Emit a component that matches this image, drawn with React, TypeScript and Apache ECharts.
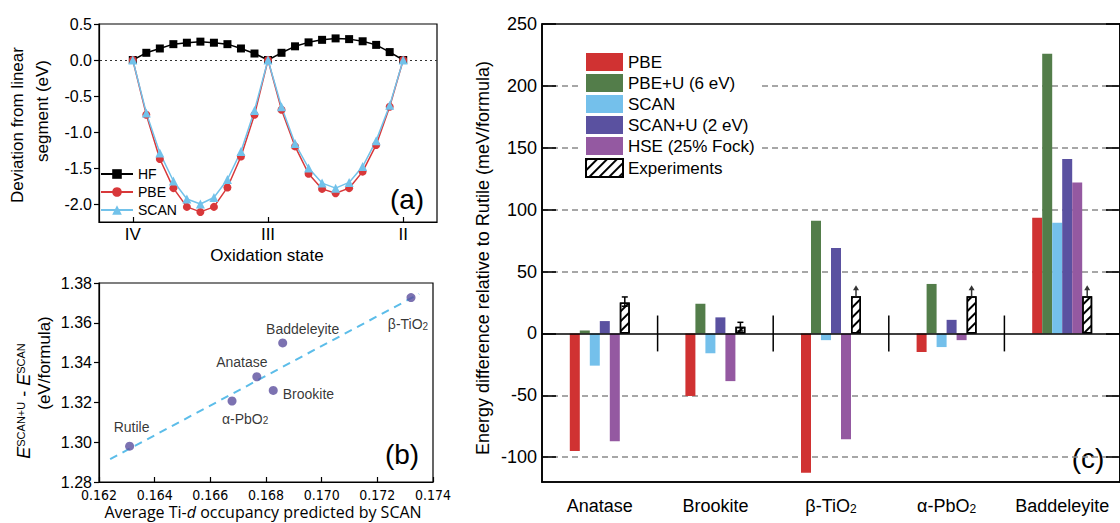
import React, { useEffect, useRef } from 'react';
import * as echarts from 'echarts';

// ---------- Panel (a) ----------
const oxStates = [4.0, 3.9, 3.8, 3.7, 3.6, 3.5, 3.4, 3.3, 3.2, 3.1, 3.0, 2.9, 2.8, 2.7, 2.6, 2.5, 2.4, 2.3, 2.2, 2.1, 2.0];
const hfDev = [0, 0.10, 0.16, 0.22, 0.24, 0.255, 0.24, 0.22, 0.16, 0.09, 0, 0.10, 0.19, 0.245, 0.28, 0.30, 0.29, 0.26, 0.21, 0.11, 0];
const pbeDev = [0, -0.76, -1.375, -1.78, -2.04, -2.11, -2.04, -1.77, -1.34, -0.76, 0, -0.69, -1.20, -1.58, -1.79, -1.85, -1.78, -1.55, -1.18, -0.65, 0];
const scanDev = [0, -0.735, -1.29, -1.68, -1.93, -2.0, -1.91, -1.66, -1.27, -0.70, 0, -0.65, -1.16, -1.50, -1.71, -1.78, -1.70, -1.48, -1.12, -0.63, 0];
const oxTicks = [4, 3, 2];
const oxTickLabels = ['IV', 'III', 'II'];
const devTicks = [-2.0, -1.5, -1.0, -0.5, 0.0, 0.5];

// ---------- Panel (b) ----------
const phases = ['Rutile', 'α-PbO2', 'Anatase', 'Brookite', 'Baddeleyite', 'β-TiO2'];
const dOccupancy = [0.1631, 0.16678, 0.16767, 0.16826, 0.1686, 0.17321];
const uShift = [1.298, 1.3207, 1.3329, 1.3260, 1.3499, 1.3727];
const fitX = [0.1624, 0.1735];
const fitY = [1.2915, 1.3745];

// ---------- Panel (c) ----------
const categories = ['Anatase', 'Brookite', 'β-TiO2', 'α-PbO2', 'Baddeleyite'];
const pbe = [-95, -50.5, -112.5, -15, 93.5];
const pbeU = [2.4, 24, 91, 40, 226];
const scan = [-26, -16, -5.4, -11, 89.5];
const scanU = [10, 13, 69, 11, 141];
const hse = [-87, -38.5, -85.5, -5.4, 122];
const experiments = [25, 5.4, 30, 30, 30];
const expErrLow = [22, 2, null, null, null];
const expErrHigh = [29.5, 9, null, null, null];
const expIsLowerBound = [false, false, true, true, true];
const energyTicks = [-100, -50, 0, 50, 100, 150, 200, 250];
const separatorHalf = 14.5;

const FONT = "'Liberation Sans', Arial, Helvetica, sans-serif";
const NARROW = "'Liberation Sans Narrow', 'DejaVu Sans Condensed', 'Liberation Sans', sans-serif";

const fmtSub = (s: string) => s.replace(/O2$/, 'O{sub|2}');

const labelPlacement: Record<string, any> = {
  'Rutile': { position: 'top', distance: 8, offset: [2, 0] },
  'α-PbO2': { position: 'bottom', distance: 6, offset: [13, 0] },
  'Anatase': { position: 'top', distance: 3, offset: [-15, 0] },
  'Brookite': { position: 'right', distance: 5, offset: [0, 4] },
  'Baddeleyite': { position: 'top', distance: 2, offset: [20, 0] },
  'β-TiO2': { position: 'bottom', distance: 15, offset: [-3, 0] },
};

const barColors = ['#d03232', '#537d4a', '#74c0eb', '#5a51a0', '#9459a1'];
const barNames = ['PBE', 'PBE+U (6 eV)', 'SCAN', 'SCAN+U (2 eV)', 'HSE (25% Fock)'];
const BAR_W = 10;

export default function App() {
  const ref = useRef<HTMLDivElement>(null);
  useEffect(() => {
    document.body.style.margin = '0';
    const chart = echarts.init(ref.current!, null, { renderer: 'svg' });

    const blackLine = { color: '#000', width: 1.2 };

    const barSeries = [pbe, pbeU, scan, scanU, hse].map((vals, k) => ({
      name: barNames[k],
      type: 'bar',
      xAxisIndex: 2,
      yAxisIndex: 2,
      data: vals,
      barWidth: BAR_W,
      barGap: '0%',
      itemStyle: { color: barColors[k] },
      z: 2,
    }));

    const option: any = {
      animation: false,
      textStyle: { fontFamily: FONT },
      grid: [
        { left: 99, top: 24, width: 338, height: 198, show: true, borderColor: '#000', borderWidth: 1.2, containLabel: false },
        { left: 99, top: 283, width: 334, height: 199, show: true, borderColor: '#000', borderWidth: 1.2, containLabel: false },
        { left: 542, top: 24, width: 585, height: 458, show: true, borderColor: '#000', borderWidth: 1.6, containLabel: false },
      ],
      xAxis: [
        {
          type: 'value', gridIndex: 0, inverse: true, min: 1.75, max: 4.25,
          axisLine: { show: true, onZero: false, lineStyle: blackLine },
          axisTick: { show: true, inside: true, length: 5, customValues: oxTicks, lineStyle: blackLine },
          axisLabel: {
            customValues: oxTicks, fontSize: 17, color: '#000', margin: 4,
            formatter: (v: number) => oxTickLabels[oxTicks.indexOf(Math.round(v))] || '',
          },
          splitLine: { show: false },
        },
        {
          type: 'value', gridIndex: 1, min: 0.162, max: 0.174, interval: 0.002,
          axisLine: { show: true, onZero: false, lineStyle: blackLine },
          axisTick: { show: true, inside: true, length: 5, lineStyle: blackLine },
          axisLabel: { fontSize: 14, lineHeight: 14, color: '#000', margin: 6, fontFamily: NARROW, formatter: (v: number) => v.toFixed(3) },
          splitLine: { show: false },
        },
        {
          type: 'category', gridIndex: 2, data: categories, z: 3,
          axisLine: { show: true, onZero: false, lineStyle: { color: '#000', width: 1.6 } },
          axisTick: { show: false },
          axisLabel: {
            interval: 0, fontSize: 18, color: '#000', margin: 15, formatter: fmtSub,
            rich: { sub: { fontSize: 12, verticalAlign: 'bottom', fontFamily: FONT, color: '#000' } },
          },
          splitLine: { show: false },
        },
      ],
      yAxis: [
        {
          type: 'value', gridIndex: 0, min: -2.25, max: 0.5,
          axisLine: { show: true, onZero: false, lineStyle: blackLine },
          axisTick: { show: true, inside: false, length: 5, customValues: devTicks, lineStyle: blackLine },
          axisLabel: { customValues: devTicks, fontSize: 16, color: '#000', margin: 7, formatter: (v: number) => v.toFixed(1) },
          splitLine: { show: false },
        },
        {
          type: 'value', gridIndex: 1, min: 1.28, max: 1.38, interval: 0.02,
          axisLine: { show: true, onZero: false, lineStyle: blackLine },
          axisTick: { show: true, inside: false, length: 5, lineStyle: blackLine },
          axisLabel: { fontSize: 16, lineHeight: 12, color: '#000', margin: 7, formatter: (v: number) => v.toFixed(2) },
          splitLine: { show: false },
        },
        {
          type: 'value', gridIndex: 2, min: -120, max: 250, position: 'left', z: 3,
          axisLine: { show: true, onZero: false, lineStyle: { color: '#000', width: 1.6 } },
          axisTick: { show: true, inside: true, length: 14, customValues: energyTicks, lineStyle: { color: '#000', width: 1.6 } },
          axisLabel: { customValues: energyTicks, fontSize: 18, color: '#000', margin: 5 },
          splitLine: { show: false },
        },
        {
          type: 'value', gridIndex: 2, min: -120, max: 250, position: 'right', z: 3,
          axisLine: { show: true, onZero: false, lineStyle: { color: '#000', width: 1.6 } },
          axisTick: { show: true, inside: true, length: 14, customValues: energyTicks, lineStyle: { color: '#000', width: 1.6 } },
          axisLabel: { show: false, customValues: energyTicks },
          splitLine: { show: false },
        },
      ],
      legend: [
        {
          left: 100, top: 167, orient: 'vertical', padding: 0, itemWidth: 32, itemHeight: 12, itemGap: 4, itemTextGap: 4,
          data: ['a:HF', 'a:PBE', 'a:SCAN'], formatter: (n: string) => n.slice(2),
          textStyle: { fontSize: 14, color: '#000', fontFamily: FONT }, selectedMode: false,
        },
        {
          left: 582, top: 51, orient: 'vertical', padding: [2, 6, 2, 3], backgroundColor: '#fff',
          itemWidth: 37, itemHeight: 18, itemGap: 3, itemTextGap: 6, icon: 'rect',
          data: [...barNames, 'Experiments'],
          textStyle: { fontSize: 17, color: '#000', fontFamily: FONT }, selectedMode: false,
        },
      ],
      series: [
        {
          name: 'a:HF', type: 'line', xAxisIndex: 0, yAxisIndex: 0,
          data: oxStates.map((x, i) => [x, hfDev[i]]),
          symbol: 'rect', symbolSize: 8, itemStyle: { color: '#000' }, lineStyle: { color: '#000', width: 1.5 },
          markLine: {
            silent: true, symbol: ['none', 'none'], z: 1, label: { show: false },
            lineStyle: { color: '#333', type: [2, 3], width: 1 }, data: [{ yAxis: 0 }],
          },
        },
        {
          name: 'a:PBE', type: 'line', xAxisIndex: 0, yAxisIndex: 0,
          data: oxStates.map((x, i) => [x, pbeDev[i]]),
          symbol: 'circle', symbolSize: 8, itemStyle: { color: '#d8383a' }, lineStyle: { color: '#d8383a', width: 1.5 },
        },
        {
          name: 'a:SCAN', type: 'line', xAxisIndex: 0, yAxisIndex: 0,
          data: oxStates.map((x, i) => [x, scanDev[i]]),
          symbol: 'triangle', symbolSize: 9, itemStyle: { color: '#72c2ea' }, lineStyle: { color: '#72c2ea', width: 1.5 },
        },
        {
          name: 'fit', type: 'line', xAxisIndex: 1, yAxisIndex: 1,
          data: fitX.map((x, i) => [x, fitY[i]]), symbol: 'none', silent: true,
          lineStyle: { color: '#5cbde9', width: 2, type: [8, 6] }, z: 1,
        },
        {
          name: 'occupancy', type: 'scatter', xAxisIndex: 1, yAxisIndex: 1, symbolSize: 9,
          itemStyle: { color: '#5b4f9e' }, z: 3,
          label: {
            show: true, fontSize: 14, color: '#000', fontFamily: FONT,
            formatter: (p: any) => fmtSub(p.name),
            rich: { sub: { fontSize: 10, verticalAlign: 'bottom', color: '#000', fontFamily: FONT } },
          },
          data: phases.map((n, i) => ({ name: n, value: [dOccupancy[i], uShift[i]], label: labelPlacement[n] })),
        },
        ...barSeries,
        {
          name: 'Experiments', type: 'bar', xAxisIndex: 2, yAxisIndex: 2, data: experiments,
          barWidth: BAR_W, barGap: '0%', z: 2,
          itemStyle: {
            color: '#fff', borderColor: '#000', borderWidth: 1.5,
            decal: { symbol: 'rect', symbolSize: 1, color: '#000', dashArrayX: [1, 0], dashArrayY: [2, 5], rotation: -Math.PI / 4 },
          },
        },
        {
          name: 'separators', type: 'custom', xAxisIndex: 2, yAxisIndex: 2, silent: true, z: 3,
          data: categories.slice(0, -1).map((_, i) => [i, 0]),
          renderItem: (params: any, api: any) => {
            const idx = api.value(0);
            const top = api.coord([idx, separatorHalf]);
            const bot = api.coord([idx, -separatorHalf]);
            const bw = api.size([1, 0])[0];
            const x = top[0] + bw / 2;
            return { type: 'line', shape: { x1: x, y1: top[1], x2: x, y2: bot[1] }, style: { stroke: '#000', lineWidth: 1.5 } };
          },
          markLine: {
            silent: true, symbol: ['none', 'none'], z: 1, label: { show: false },
            lineStyle: { color: '#8a8a8a', type: [6, 4], width: 1.5 },
            data: energyTicks.filter((v) => v !== 0 && v !== 250).map((v) => ({ yAxis: v })),
          },
        },
        {
          name: 'errors', type: 'custom', xAxisIndex: 2, yAxisIndex: 2, silent: true, z: 4,
          data: categories.map((_, i) => i).filter((i) => expErrLow[i] != null).map((i) => [i, expErrLow[i], expErrHigh[i]]),
          renderItem: (params: any, api: any) => {
            const i = api.value(0);
            const lo = api.coord([i, api.value(1)]);
            const hi = api.coord([i, api.value(2)]);
            const x = lo[0] + BAR_W * 2.5;
            const st = { stroke: '#000', lineWidth: 1.5 };
            return {
              type: 'group', children: [
                { type: 'line', shape: { x1: x, y1: lo[1], x2: x, y2: hi[1] }, style: st },
                { type: 'line', shape: { x1: x - 3, y1: hi[1], x2: x + 3, y2: hi[1] }, style: st },
                { type: 'line', shape: { x1: x - 3, y1: lo[1], x2: x + 3, y2: lo[1] }, style: st },
              ],
            };
          },
        },
        {
          name: 'arrows', type: 'custom', xAxisIndex: 2, yAxisIndex: 2, silent: true, z: 4,
          data: categories.map((_, i) => i).filter((i) => expIsLowerBound[i]).map((i) => [i, experiments[i]]),
          renderItem: (params: any, api: any) => {
            const i = api.value(0);
            const p = api.coord([i, api.value(1)]);
            const x = p[0] + BAR_W * 2.5;
            const y0 = p[1];
            return {
              type: 'group', children: [
                { type: 'line', shape: { x1: x, y1: y0, x2: x, y2: y0 - 7 }, style: { stroke: '#333', lineWidth: 1.5 } },
                { type: 'polygon', shape: { points: [[x - 3, y0 - 6], [x + 3, y0 - 6], [x, y0 - 11]] }, style: { fill: '#333' } },
              ],
            };
          },
          markLine: {
            silent: true, symbol: ['none', 'none'], z: 6, label: { show: false },
            lineStyle: { color: '#000', type: 'solid', width: 1.6 }, data: [{ yAxis: 0 }],
          },
        },
      ],
      graphic: [
        { type: 'text', x: 17, y: 125, rotation: Math.PI / 2, style: { text: 'Deviation from linear', font: `17px ${FONT}`, fill: '#000', align: 'center', verticalAlign: 'middle' } },
        { type: 'text', x: 42, y: 111, rotation: Math.PI / 2, style: { text: 'segment (eV)', font: `17px ${FONT}`, fill: '#000', align: 'center', verticalAlign: 'middle' } },
        { type: 'text', x: 267, y: 255, style: { text: 'Oxidation state', font: `17px ${FONT}`, fill: '#000', align: 'center', verticalAlign: 'middle' } },
        { type: 'text', x: 407, y: 199, style: { text: '(a)', font: `28px ${FONT}`, fill: '#000', align: 'center', verticalAlign: 'middle' } },
        {
          type: 'text', x: 24, y: 401, rotation: Math.PI / 2,
          style: {
            text: '{e|E}{sup|SCAN+U}{n| - }{e|E}{sup|SCAN}', align: 'center', verticalAlign: 'middle', fill: '#000',
            rich: {
              e: { fontSize: 18, fontStyle: 'italic', fontFamily: FONT, fill: '#000' },
              n: { fontSize: 18, fontFamily: FONT, fill: '#000' },
              sup: { fontSize: 11, fontFamily: FONT, verticalAlign: 'top', fill: '#000' },
            },
          },
        },
        { type: 'text', x: 44, y: 363, rotation: Math.PI / 2, style: { text: '(eV/formula)', font: `17px ${FONT}`, fill: '#000', align: 'center', verticalAlign: 'middle' } },
        {
          type: 'text', x: 263, y: 512,
          style: {
            text: 'Average Ti-{d|d} occupancy predicted by SCAN', font: `16px 'Open Sans', sans-serif`, fill: '#000', align: 'center', verticalAlign: 'middle',
            rich: { d: { fontSize: 16, fontStyle: 'italic', fontFamily: "'Open Sans', sans-serif", fill: '#000' } },
          },
        },
        { type: 'text', x: 402, y: 454, style: { text: '(b)', font: `28px ${FONT}`, fill: '#000', align: 'center', verticalAlign: 'middle' } },
        { type: 'text', x: 483, y: 258, rotation: Math.PI / 2, style: { text: 'Energy difference relative to Rutile (meV/formula)', font: `18px ${FONT}`, fill: '#000', align: 'center', verticalAlign: 'middle' } },
        { type: 'text', x: 1088, y: 458, style: { text: '(c)', font: `28px ${FONT}`, fill: '#000', align: 'center', verticalAlign: 'middle' } },
      ],
    };
    chart.setOption(option);
    return () => chart.dispose();
  }, []);
  return <div ref={ref} style={{ width: 1120, height: 523 }} />;
}
